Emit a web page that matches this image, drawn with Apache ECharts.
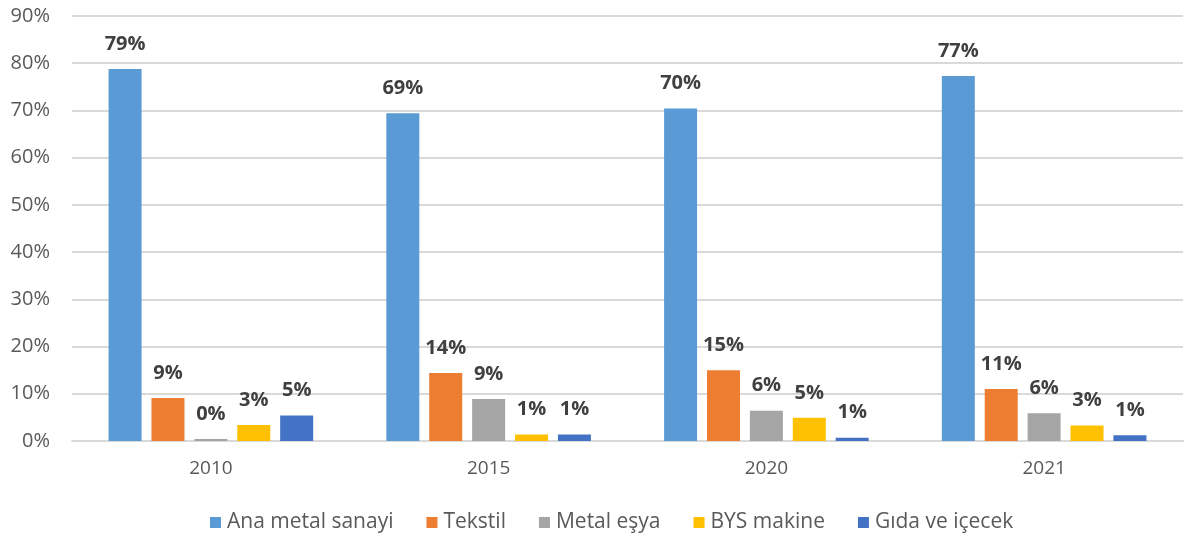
<!DOCTYPE html>
<html>
<head>
<meta charset="utf-8">
<script src="https://cdn.jsdelivr.net/npm/echarts@6/dist/echarts.min.js"></script>
<style>
  html, body { margin: 0; padding: 0; background: #fff; }
  #chart { width: 1184px; height: 545px; }
</style>
</head>
<body>
<div id="chart"></div>
<script>
// Sector shares by year (percent)
const years = ['2010', '2015', '2020', '2021'];
const seriesNames = ['Ana metal sanayi', 'Tekstil', 'Metal eşya', 'BYS makine', 'Gıda ve içecek'];
const anaMetal = [78.8, 69.4, 70.4, 77.3];
const tekstil = [9.1, 14.4, 15.0, 11.0];
const metalEsya = [0.4, 8.9, 6.4, 5.9];
const bysMakine = [3.4, 1.4, 4.9, 3.3];
const gidaIcecek = [5.4, 1.4, 0.7, 1.2];
const yTicks = [0, 10, 20, 30, 40, 50, 60, 70, 80, 90];

const colors = ['#5B9BD5', '#ED7D31', '#A5A5A5', '#FFC000', '#4472C4'];
const values = [anaMetal, tekstil, metalEsya, bysMakine, gidaIcecek];
const font = '"Open Sans", "Noto Sans", sans-serif';

const chart = echarts.init(document.getElementById('chart'));
chart.setOption({
  animation: false,
  color: colors,
  grid: { left: 72, right: 1, top: 16, bottom: 104 },
  legend: {
    bottom: 7,
    left: 205,
    itemWidth: 11,
    itemHeight: 11,
    itemGap: 33,
    icon: 'rect',
    textStyle: { fontFamily: font, fontSize: 21, color: '#595959', padding: [0, 0, 0, 1] },
    data: seriesNames
  },
  xAxis: {
    type: 'category',
    data: years,
    axisLine: { lineStyle: { color: '#d9d9d9', width: 2 } },
    axisTick: { show: false },
    axisLabel: { fontFamily: font, fontSize: 19, color: '#595959', margin: 18 }
  },
  yAxis: {
    type: 'value',
    min: yTicks[0],
    max: yTicks[yTicks.length - 1],
    interval: 10,
    axisLine: { show: false },
    axisTick: { show: false },
    splitLine: { lineStyle: { color: '#d9d9d9', width: 2 } },
    axisLabel: {
      fontFamily: font, fontSize: 20, color: '#595959', margin: 22,
      formatter: v => v + '%'
    }
  },
  series: seriesNames.map((name, i) => ({
    name: name,
    type: 'bar',
    data: values[i],
    barWidth: 33,
    barGap: '30%',
    label: {
      show: true,
      position: 'top',
      distance: 15,
      fontFamily: font,
      fontSize: 20,
      fontWeight: 'bold',
      color: '#404040',
      formatter: p => Math.round(p.value) + '%'
    }
  }))
});
</script>
</body>
</html>
